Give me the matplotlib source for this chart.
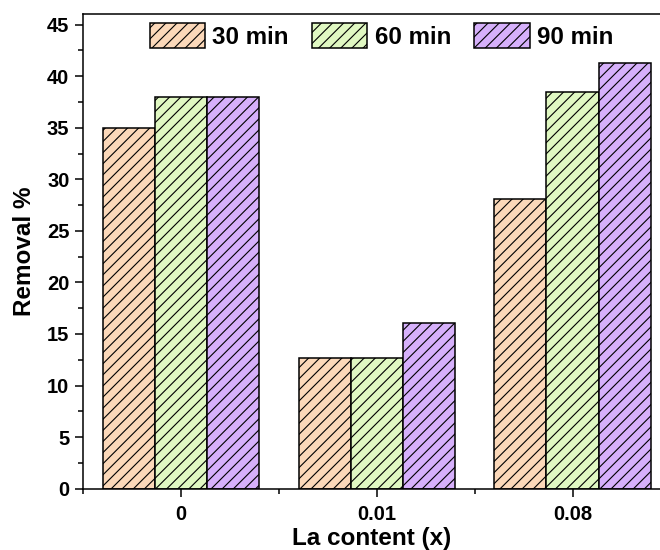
import matplotlib
matplotlib.use("Agg")
import matplotlib.pyplot as plt
import numpy as np
from matplotlib.ticker import MultipleLocator, FixedLocator

plt.rcParams['font.family'] = ['Liberation Sans', 'DejaVu Sans']
plt.rcParams['font.weight'] = 'bold'
plt.rcParams['hatch.linewidth'] = 0.8

categories = ['0', '0.01', '0.08']
series_names = ['30 min', '60 min', '90 min']
v30 = [35.0, 12.7, 28.1]
v60 = [38.0, 12.7, 38.5]
v90 = [38.0, 16.1, 41.3]
colors = ['#FBD8B9', '#E0F8C2', '#D6B0FB']
values = [v30, v60, v90]

fig = plt.figure(figsize=(6.6, 5.5), dpi=100)
ax = fig.add_axes([0.1262, 0.1115, 0.8738, 0.8625])

x = np.arange(len(categories))
w = 0.8 / 3
for i, (name, vals, c) in enumerate(zip(series_names, values, colors)):
    ax.bar(x + (i - 1) * w, vals, width=w, color=c, edgecolor='black',
           linewidth=1.1, hatch='///', label=name, zorder=2)

ax.set_xlim(-0.5, 2.447)
ax.set_ylim(0, 46)
ax.set_xticks(x)
ax.set_xticklabels(categories)
ax.xaxis.set_minor_locator(FixedLocator([-0.5, 0.5, 1.5, 2.5]))
ax.yaxis.set_major_locator(MultipleLocator(5))
ax.yaxis.set_minor_locator(MultipleLocator(2.5))

for s in ['left', 'bottom', 'top']:
    ax.spines[s].set_linewidth(1.1)
ax.spines['right'].set_visible(False)

ax.tick_params(axis='both', which='major', length=6, width=1.1, labelsize=14.5, direction='out')
ax.tick_params(axis='both', which='minor', length=3.5, width=1.1, direction='out')
ax.tick_params(axis='x', which='major', pad=6)
ax.tick_params(axis='y', which='major', pad=4)
for lab in ax.get_xticklabels() + ax.get_yticklabels():
    lab.set_fontweight('bold')

ax.set_xlabel('La content (x)', fontsize=17.5, fontweight='bold', labelpad=2)
ax.set_ylabel('Removal %', fontsize=17.5, fontweight='bold', labelpad=8)

leg = ax.legend(loc='upper center', bbox_to_anchor=(0.517, 1.018), ncol=3, frameon=False,
                prop={'size': 17.4, 'weight': 'bold'}, handlelength=2.3,
                handleheight=1.25, handletextpad=0.3, columnspacing=0.95,
                borderaxespad=0.3)

fig.savefig('out.png', dpi=100)
